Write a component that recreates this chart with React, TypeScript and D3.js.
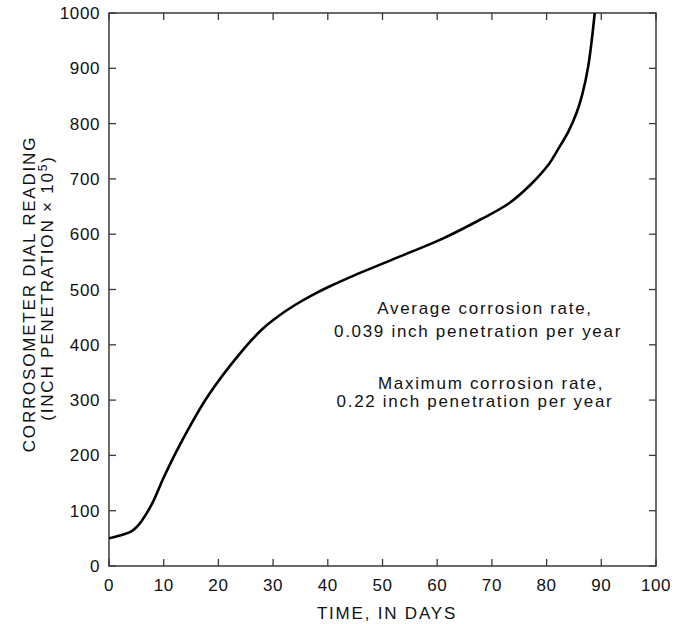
import React from "react";
import * as d3 from "d3";

const days = [0, 2, 4, 5, 6, 8, 10, 13, 18, 24, 28, 31, 34, 37, 40, 44, 53, 61, 68, 73, 77, 80.5, 82, 84, 85.5, 86.5, 87.6, 88.8];
const readings = [50, 55, 62, 70, 82, 115, 160, 220, 306, 385, 428, 452, 472, 489, 504, 522, 559, 592, 627, 655, 689, 728, 752, 786, 820, 852, 903, 1000];
const xTicks = [0, 10, 20, 30, 40, 50, 60, 70, 80, 90, 100];
const yTicks = [0, 100, 200, 300, 400, 500, 600, 700, 800, 900, 1000];
const notes = [
  "Average corrosion rate,",
  "0.039 inch penetration per year",
  "Maximum corrosion rate,",
  "0.22 inch penetration per year",
];

const W = 679;
const H = 624;
const L = 109, R = 656, T = 13, B = 566;
const FONT = "'Liberation Sans', Arial, Helvetica, sans-serif";

export default function App() {
  const x = d3.scaleLinear().domain([0, 100]).range([L, R]);
  const y = d3.scaleLinear().domain([0, 1000]).range([B, T]);
  const pts = days.map((d, i) => [d, readings[i]] as [number, number]);
  const line = d3
    .line<[number, number]>()
    .x((d) => x(d[0]))
    .y((d) => y(d[1]))
    .curve(d3.curveCatmullRom.alpha(0.5));
  const axisColor = "#3a3a3a";
  const tick = 7;
  const noteX = [485, 478, 491, 475];
  const noteY = [314, 337, 389, 407];
  return (
    <svg
      width={W}
      height={H}
      style={{ position: "absolute", left: 0, top: 0, background: "#fff" }}
      fontFamily={FONT}
    >
      <defs>
        <clipPath id="plot">
          <rect x={L} y={T} width={R - L} height={B - T} />
        </clipPath>
      </defs>
      <rect x={L} y={T} width={R - L} height={B - T} fill="none" stroke={axisColor} strokeWidth={1.5} />
      {xTicks.map((t) => (
        <g key={"x" + t}>
          <line x1={x(t)} x2={x(t)} y1={B} y2={B - tick} stroke={axisColor} strokeWidth={1.3} />
          <line x1={x(t)} x2={x(t)} y1={T} y2={T + tick} stroke={axisColor} strokeWidth={1.3} />
          <text x={x(t)} y={591} textAnchor="middle" fontSize={17} letterSpacing={0.6} fill="#111">
            {t}
          </text>
        </g>
      ))}
      {yTicks.map((t) => (
        <g key={"y" + t}>
          <line x1={L} x2={L + tick} y1={y(t)} y2={y(t)} stroke={axisColor} strokeWidth={1.3} />
          <line x1={R} x2={R - tick} y1={y(t)} y2={y(t)} stroke={axisColor} strokeWidth={1.3} />
          <text x={100} y={y(t) + 6} textAnchor="end" fontSize={17} letterSpacing={0.6} fill="#111">
            {t}
          </text>
        </g>
      ))}
      <path d={line(pts) || ""} fill="none" stroke="#000" strokeWidth={2.6} clipPath="url(#plot)" />
      <text x={387} y={619} textAnchor="middle" fontSize={17} letterSpacing={1.8} fill="#111">
        TIME, IN DAYS
      </text>
      <text
        transform="translate(35,294) rotate(-90)"
        textAnchor="middle"
        fontSize={17}
        letterSpacing={1.8}
        fill="#111"
      >
        CORROSOMETER DIAL READING
      </text>
      <text
        transform="translate(53,288) rotate(-90)"
        textAnchor="middle"
        fontSize={17}
        letterSpacing={1.8}
        fill="#111"
      >
        (INCH PENETRATION × 10
        <tspan fontSize={12} dy={-6}>5</tspan>
        <tspan dy={6}>)</tspan>
      </text>
      {notes.map((n, i) => (
        <text key={n} x={noteX[i]} y={noteY[i]} textAnchor="middle" fontSize={17} letterSpacing={1.7} fill="#111">
          {n}
        </text>
      ))}
    </svg>
  );
}
